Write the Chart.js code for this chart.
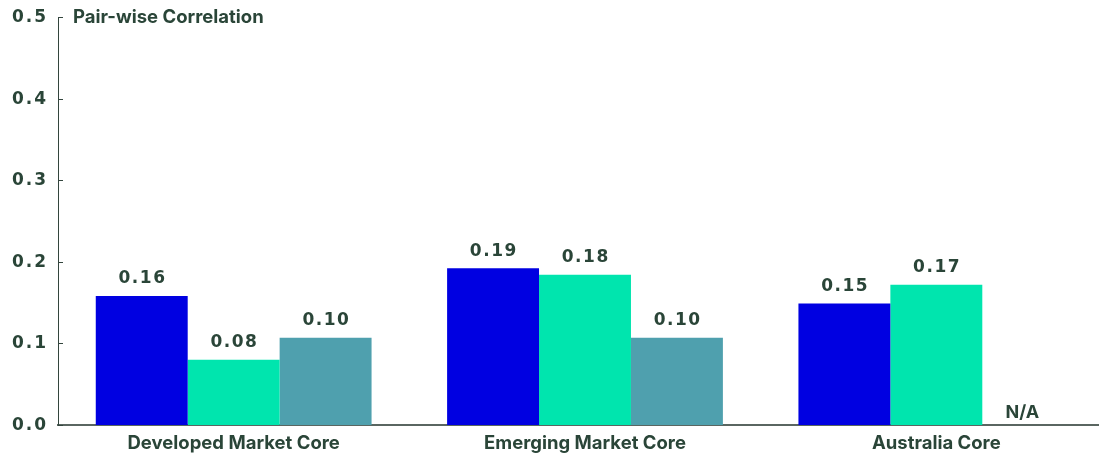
<!DOCTYPE html>
<html>
<head>
<meta charset="utf-8">
<script src="https://cdn.jsdelivr.net/npm/chart.js@4/dist/chart.umd.min.js"></script>
<style>
  html, body { margin: 0; padding: 0; background: #fff; overflow: hidden; }
  #wrap { position: relative; width: 1112px; height: 454px; }
</style>
</head>
<body>
<div id="wrap"><canvas id="chart"></canvas></div>
<script>
const categories = ['Developed Market Core', 'Emerging Market Core', 'Australia Core'];
const series1 = [0.158, 0.192, 0.149];
const series2 = [0.080, 0.184, 0.172];
const series3 = [0.107, 0.107, null];
const labels1 = ['0.16', '0.19', '0.15'];
const labels2 = ['0.08', '0.18', '0.17'];
const labels3 = ['0.10', '0.10', 'N/A'];
const yTicks = [0, 0.1, 0.2, 0.3, 0.4, 0.5];
const yTitle = 'Pair-wise Correlation';

const textColor = '#2a4538';
const numFont = 'bold 17px "DejaVu Sans"';

// labels above each bar, N/A sits on the axis
const barLabels = {
  id: 'barLabels',
  afterDatasetsDraw(chart) {
    const ctx = chart.ctx;
    const allLabels = [labels1, labels2, labels3];
    const y0 = chart.scales.y.getPixelForValue(0);
    ctx.save();
    ctx.fillStyle = textColor;
    ctx.textAlign = 'center';
    ctx.textBaseline = 'middle';
    chart.data.datasets.forEach((ds, i) => {
      const meta = chart.getDatasetMeta(i);
      meta.data.forEach((bar, j) => {
        const v = ds.data[j];
        const txt = allLabels[i][j];
        if (v === null) {
          ctx.letterSpacing = '0px';
          ctx.font = 'bold 18px Inter';
          ctx.fillText(txt, bar.x - 6, y0 - 12);
        } else {
          ctx.letterSpacing = '1.5px';
          ctx.font = numFont;
          ctx.fillText(txt, bar.x + 0.75, bar.y - 17);
        }
      });
    });
    ctx.restore();
  }
};

// y tick labels, inward tick marks and the axis caption
const yDecor = {
  id: 'yDecor',
  afterDraw(chart) {
    const ctx = chart.ctx;
    const ys = chart.scales.y;
    const left = chart.chartArea.left;
    ctx.save();
    ctx.strokeStyle = '#33453d';
    ctx.lineWidth = 1;
    ctx.fillStyle = textColor;
    ctx.font = numFont;
    ctx.letterSpacing = '2px';
    ctx.textAlign = 'right';
    ctx.textBaseline = 'middle';
    yTicks.forEach(t => {
      const py = Math.round(ys.getPixelForValue(t)) + 0.5;
      ctx.beginPath();
      ctx.moveTo(left, py);
      ctx.lineTo(left + 5, py);
      ctx.stroke();
      ctx.fillText(t.toFixed(1), left - 10, py);
    });
    ctx.letterSpacing = '0px';
    ctx.font = 'bold 18.5px Inter';
    ctx.textAlign = 'left';
    ctx.fillText(yTitle, left + 15, ys.getPixelForValue(0.5));
    ctx.restore();
  }
};

const chart = new Chart(document.getElementById('chart'), {
  type: 'bar',
  data: {
    labels: categories,
    datasets: [
      { data: series1, backgroundColor: '#0000e1' },
      { data: series2, backgroundColor: '#00e5ae' },
      { data: series3, backgroundColor: '#4fa0ae' }
    ]
  },
  options: {
    responsive: true,
    maintainAspectRatio: false,
    animation: false,
    layout: { padding: { top: 17, right: 0, bottom: 0, left: 0 } },
    datasets: {
      bar: { barPercentage: 1, categoryPercentage: 0.785 }
    },
    scales: {
      x: {
        grid: { display: false, drawTicks: false },
        border: { display: true, color: '#5a6661', width: 2 },
        ticks: {
          color: textColor,
          font: { family: 'Inter', size: 18.5, weight: 'bold' },
          padding: 7
        },
        afterFit(scale) { scale.height = 29; }
      },
      y: {
        min: 0,
        max: 0.5,
        afterBuildTicks(scale) { scale.ticks = yTicks.map(v => ({ value: v })); },
        grid: { display: false, drawTicks: false },
        border: { display: true, color: '#33453d', width: 1 },
        ticks: { display: false },
        afterFit(scale) { scale.width = 58; }
      }
    },
    plugins: {
      legend: { display: false },
      tooltip: { enabled: false }
    }
  },
  plugins: [barLabels, yDecor]
});
</script>
</body>
</html>
